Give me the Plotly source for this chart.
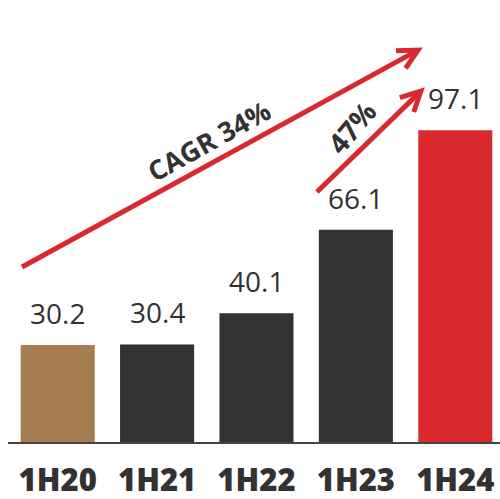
import math
import plotly.graph_objects as go

# Half-year values
periods = ["1H20", "1H21", "1H22", "1H23", "1H24"]
values = [30.2, 30.4, 40.1, 66.1, 97.1]
bar_colors = ["#A67C52", "#333132", "#333132", "#333132", "#D8292F"]

RED = "#D8292F"
DARK = "#333132"

W, H = 500, 499
M_L, M_R, M_T, M_B = 8, 0, 0, 57
X_RANGE = [-0.5, 4.45]
Y_RANGE = [0, 137.7]

plot_w = W - M_L - M_R
plot_h = H - M_T - M_B
sx = plot_w / (X_RANGE[1] - X_RANGE[0])
sy = plot_h / (Y_RANGE[1] - Y_RANGE[0])

xs = list(range(len(periods)))

fig = go.Figure()
fig.add_trace(go.Bar(
    x=xs, y=values, width=0.745,
    marker=dict(color=bar_colors, line=dict(width=0)),
    hoverinfo="skip",
))

# Value labels above each bar
for x, v in zip(xs, values):
    fig.add_annotation(
        x=x, y=v, text=f"{v:.1f}", showarrow=False,
        yanchor="bottom", yshift=11,
        font=dict(family="Open Sans", size=28, color=DARK),
    )


def arrow(x0, y0, x1, y1, arm=22, spread=27):
    """Shaft plus an open chevron head, drawn in data units."""
    dx, dy = (x1 - x0) * sx, (y1 - y0) * sy
    ang = math.atan2(dy, dx)
    pts = []
    for s in (spread, -spread):
        a = ang + math.pi + math.radians(s)
        pts.append((x1 + arm * math.cos(a) / sx, y1 + arm * math.sin(a) / sy))
    line = dict(color=RED, width=5)
    fig.add_shape(type="line", x0=x0, y0=y0, x1=x1, y1=y1, line=line, layer="above")
    path = (f"M {pts[0][0]},{pts[0][1]} L {x1},{y1} L {pts[1][0]},{pts[1][1]}")
    fig.add_shape(type="path", path=path, line=line, layer="above")


# Growth arrows: overall CAGR and latest year-on-year
arrow(-0.359, 54.5, 3.625, 122.1)
arrow(2.608, 77.9, 3.654, 109.3)

fig.add_annotation(
    x=1.52, y=94.0, text="<b>CAGR 34%</b>", showarrow=False, textangle=-29,
    font=dict(family="Open Sans", size=27, color=DARK, weight=800),
)
fig.add_annotation(
    x=2.96, y=98.0, text="<b>47%</b>", showarrow=False, textangle=-50,
    font=dict(family="Open Sans", size=28, color=DARK, weight=800),
)

fig.update_layout(
    width=W, height=H,
    margin=dict(l=M_L, r=M_R, t=M_T, b=M_B, pad=0, autoexpand=False),
    paper_bgcolor="white", plot_bgcolor="white",
    showlegend=False,
    xaxis=dict(
        range=X_RANGE, tickmode="array", tickvals=xs, ticktext=periods,
        showgrid=False, zeroline=False, showline=True,
        linecolor="#444444", linewidth=2,
        ticks="", ticklabelstandoff=10, automargin=False,
        tickfont=dict(family="Open Sans", size=31, color=DARK, weight=800),
        fixedrange=True,
    ),
    yaxis=dict(
        range=Y_RANGE, visible=False, showgrid=False, zeroline=False,
        fixedrange=True, automargin=False,
    ),
)

fig.write_html("out.html")
